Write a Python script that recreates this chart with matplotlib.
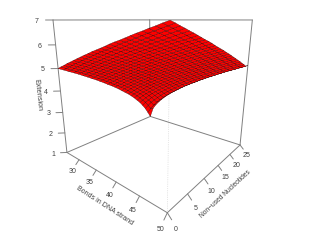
"""
Perspective surface of extension against bonds and non-used nucleotides.
"""

import numpy as np
import matplotlib
matplotlib.use('Agg')
import matplotlib.pyplot as plt
from matplotlib.collections import PolyCollection

plt.rcParams['font.family'] = ['Liberation Sans', 'DejaVu Sans']

bonds = [26, 27, 28, 29, 30, 31, 32, 33, 34, 35, 36, 37, 38, 39, 40, 41, 42, 43, 44, 45, 46, 47, 48, 49, 50]
nucleotides = [0, 1, 2, 3, 4, 5, 6, 7, 8, 9, 10, 11, 12, 13, 14, 15, 16, 17, 18, 19, 20, 21, 22, 23, 24, 25]

# extension, one row per bond count, one column per nucleotide count
extension = [
    [5.00, 4.90, 4.80, 4.70, 4.60, 4.49, 4.38, 4.27, 4.16, 4.04, 3.92, 3.79, 3.67, 3.54, 3.40, 3.25, 3.10, 2.95, 2.78, 2.60, 2.40, 2.20, 1.95, 1.68, 1.35, 1.00],
    [5.10, 5.00, 4.90, 4.80, 4.70, 4.60, 4.49, 4.38, 4.27, 4.16, 4.04, 3.92, 3.79, 3.67, 3.54, 3.40, 3.25, 3.10, 2.95, 2.78, 2.60, 2.40, 2.20, 1.95, 1.68, 1.62],
    [5.19, 5.10, 5.00, 4.90, 4.80, 4.70, 4.60, 4.49, 4.38, 4.27, 4.16, 4.04, 3.92, 3.79, 3.67, 3.54, 3.40, 3.25, 3.10, 2.95, 2.78, 2.60, 2.40, 2.20, 1.95, 1.93],
    [5.29, 5.19, 5.10, 5.00, 4.90, 4.80, 4.70, 4.60, 4.49, 4.38, 4.27, 4.16, 4.04, 3.92, 3.79, 3.67, 3.54, 3.40, 3.25, 3.10, 2.95, 2.78, 2.60, 2.40, 2.20, 2.18],
    [5.38, 5.29, 5.19, 5.10, 5.00, 4.90, 4.80, 4.70, 4.60, 4.49, 4.38, 4.27, 4.16, 4.04, 3.92, 3.79, 3.67, 3.54, 3.40, 3.25, 3.10, 2.95, 2.78, 2.60, 2.40, 2.40],
    [5.47, 5.38, 5.29, 5.19, 5.10, 5.00, 4.90, 4.80, 4.70, 4.60, 4.49, 4.38, 4.27, 4.16, 4.04, 3.92, 3.79, 3.67, 3.54, 3.40, 3.25, 3.10, 2.95, 2.78, 2.60, 2.60],
    [5.56, 5.47, 5.38, 5.29, 5.19, 5.10, 5.00, 4.90, 4.80, 4.70, 4.60, 4.49, 4.38, 4.27, 4.16, 4.04, 3.92, 3.79, 3.67, 3.54, 3.40, 3.25, 3.10, 2.95, 2.78, 2.78],
    [5.65, 5.56, 5.47, 5.38, 5.29, 5.19, 5.10, 5.00, 4.90, 4.80, 4.70, 4.60, 4.49, 4.38, 4.27, 4.16, 4.04, 3.92, 3.79, 3.67, 3.54, 3.40, 3.25, 3.10, 2.95, 2.95],
    [5.74, 5.65, 5.56, 5.47, 5.38, 5.29, 5.19, 5.10, 5.00, 4.90, 4.80, 4.70, 4.60, 4.49, 4.38, 4.27, 4.16, 4.04, 3.92, 3.79, 3.67, 3.54, 3.40, 3.25, 3.10, 3.10],
    [5.82, 5.74, 5.65, 5.56, 5.47, 5.38, 5.29, 5.19, 5.10, 5.00, 4.90, 4.80, 4.70, 4.60, 4.49, 4.38, 4.27, 4.16, 4.04, 3.92, 3.79, 3.67, 3.54, 3.40, 3.25, 3.25],
    [5.91, 5.82, 5.74, 5.65, 5.56, 5.47, 5.38, 5.29, 5.19, 5.10, 5.00, 4.90, 4.80, 4.70, 4.60, 4.49, 4.38, 4.27, 4.16, 4.04, 3.92, 3.79, 3.67, 3.54, 3.40, 3.40],
    [5.99, 5.91, 5.82, 5.74, 5.65, 5.56, 5.47, 5.38, 5.29, 5.19, 5.10, 5.00, 4.90, 4.80, 4.70, 4.60, 4.49, 4.38, 4.27, 4.16, 4.04, 3.92, 3.79, 3.67, 3.54, 3.54],
    [6.07, 5.99, 5.91, 5.82, 5.74, 5.65, 5.56, 5.47, 5.38, 5.29, 5.19, 5.10, 5.00, 4.90, 4.80, 4.70, 4.60, 4.49, 4.38, 4.27, 4.16, 4.04, 3.92, 3.79, 3.67, 3.67],
    [6.15, 6.07, 5.99, 5.91, 5.82, 5.74, 5.65, 5.56, 5.47, 5.38, 5.29, 5.19, 5.10, 5.00, 4.90, 4.80, 4.70, 4.60, 4.49, 4.38, 4.27, 4.16, 4.04, 3.92, 3.79, 3.79],
    [6.24, 6.15, 6.07, 5.99, 5.91, 5.82, 5.74, 5.65, 5.56, 5.47, 5.38, 5.29, 5.19, 5.10, 5.00, 4.90, 4.80, 4.70, 4.60, 4.49, 4.38, 4.27, 4.16, 4.04, 3.92, 3.92],
    [6.32, 6.24, 6.15, 6.07, 5.99, 5.91, 5.82, 5.74, 5.65, 5.56, 5.47, 5.38, 5.29, 5.19, 5.10, 5.00, 4.90, 4.80, 4.70, 4.60, 4.49, 4.38, 4.27, 4.16, 4.04, 4.04],
    [6.39, 6.32, 6.24, 6.15, 6.07, 5.99, 5.91, 5.82, 5.74, 5.65, 5.56, 5.47, 5.38, 5.29, 5.19, 5.10, 5.00, 4.90, 4.80, 4.70, 4.60, 4.49, 4.38, 4.27, 4.16, 4.16],
    [6.47, 6.39, 6.32, 6.24, 6.15, 6.07, 5.99, 5.91, 5.82, 5.74, 5.65, 5.56, 5.47, 5.38, 5.29, 5.19, 5.10, 5.00, 4.90, 4.80, 4.70, 4.60, 4.49, 4.38, 4.27, 4.27],
    [6.55, 6.47, 6.39, 6.32, 6.24, 6.15, 6.07, 5.99, 5.91, 5.82, 5.74, 5.65, 5.56, 5.47, 5.38, 5.29, 5.19, 5.10, 5.00, 4.90, 4.80, 4.70, 4.60, 4.49, 4.38, 4.38],
    [6.63, 6.55, 6.47, 6.39, 6.32, 6.24, 6.15, 6.07, 5.99, 5.91, 5.82, 5.74, 5.65, 5.56, 5.47, 5.38, 5.29, 5.19, 5.10, 5.00, 4.90, 4.80, 4.70, 4.60, 4.49, 4.49],
    [6.70, 6.63, 6.55, 6.47, 6.39, 6.32, 6.24, 6.15, 6.07, 5.99, 5.91, 5.82, 5.74, 5.65, 5.56, 5.47, 5.38, 5.29, 5.19, 5.10, 5.00, 4.90, 4.80, 4.70, 4.60, 4.60],
    [6.78, 6.70, 6.63, 6.55, 6.47, 6.39, 6.32, 6.24, 6.15, 6.07, 5.99, 5.91, 5.82, 5.74, 5.65, 5.56, 5.47, 5.38, 5.29, 5.19, 5.10, 5.00, 4.90, 4.80, 4.70, 4.70],
    [6.85, 6.78, 6.70, 6.63, 6.55, 6.47, 6.39, 6.32, 6.24, 6.15, 6.07, 5.99, 5.91, 5.82, 5.74, 5.65, 5.56, 5.47, 5.38, 5.29, 5.19, 5.10, 5.00, 4.90, 4.80, 4.80],
    [6.93, 6.85, 6.78, 6.70, 6.63, 6.55, 6.47, 6.39, 6.32, 6.24, 6.15, 6.07, 5.99, 5.91, 5.82, 5.74, 5.65, 5.56, 5.47, 5.38, 5.29, 5.19, 5.10, 5.00, 4.90, 4.90],
    [7.00, 6.93, 6.85, 6.78, 6.70, 6.63, 6.55, 6.47, 6.39, 6.32, 6.24, 6.15, 6.07, 5.99, 5.91, 5.82, 5.74, 5.65, 5.56, 5.47, 5.38, 5.29, 5.19, 5.10, 5.00, 5.00],
]

bond_ticks = [30, 35, 40, 45, 50]
nucleotide_ticks = [0, 5, 10, 15, 20, 25]
extension_ticks = [1, 2, 3, 4, 5, 6, 7]

THETA = np.radians(40)
PHI = np.radians(15.4)
EYE = 3.82
Z_EXPAND = 1.01


def project(x, y, z):
    # same idea as persp(): box scaled to -1..1, turned, then divided by depth
    xn = 2 * (np.asarray(x, float) - bonds[0]) / (bonds[-1] - bonds[0]) - 1
    yn = 2 * (np.asarray(y, float) - nucleotides[0]) / (nucleotides[-1] - nucleotides[0]) - 1
    zn = (2 * (np.asarray(z, float) - 1) / 6 - 1) * Z_EXPAND
    sx = xn * np.cos(THETA) + yn * np.sin(THETA)
    depth = xn * np.sin(THETA) - yn * np.cos(THETA)
    sy = zn * np.cos(PHI) - depth * np.sin(PHI)
    sz = zn * np.sin(PHI) + depth * np.cos(PHI)
    w = EYE - sz
    return sx / w, sy / w, sz


fig = plt.figure(figsize=(3.18, 2.53), dpi=100)
ax = fig.add_axes([0, 0, 1, 1])
ax.axis('off')

x0, x1 = bonds[0], bonds[-1]
y0, y1 = nucleotides[0], nucleotides[-1]
z0, z1 = extension_ticks[0], extension_ticks[-1]
grey = '#808080'

# scale and centre of the projected picture
px = 251.0
ax.set_xlim(-156 / px, (318 - 156) / px)
top = project(x0, y0, z1)[1]
ax.set_ylim(top - (253 - 21) / px, top + 21 / px)


def edge(a, b, **kw):
    pa = project(*a)
    pb = project(*b)
    style = dict(color=grey, lw=0.7, solid_capstyle='round')
    style.update(kw)
    ax.plot([pa[0], pb[0]], [pa[1], pb[1]], **style)


# back of the box
edge((x0, y1, z0), (x0, y1, z1))
edge((x0, y1, z0), (x0, y0, z0))
edge((x0, y1, z0), (x1, y1, z0))
edge((x0, y1, z1), (x0, y0, z1))
edge((x0, y1, z1), (x1, y1, z1))
edge((x0, y0, z0), (x0, y0, z1))
edge((x1, y1, z0), (x1, y1, z1))

# facets, far ones first
Z = np.array(extension)
facets = []
depths = []
for i in range(len(bonds) - 1):
    for j in range(len(nucleotides) - 1):
        xs = [bonds[i], bonds[i + 1], bonds[i + 1], bonds[i]]
        ys = [nucleotides[j], nucleotides[j], nucleotides[j + 1], nucleotides[j + 1]]
        zs = [Z[i, j], Z[i + 1, j], Z[i + 1, j + 1], Z[i, j + 1]]
        sx, sy, sz = project(xs, ys, zs)
        facets.append(np.column_stack([sx, sy]))
        depths.append(sz.mean())
order = np.argsort(depths)
ax.add_collection(PolyCollection([facets[k] for k in order], facecolors='#ff0000',
                                 edgecolors='#200000', linewidths=0.22, zorder=3))

# front of the box
edge((x1, y0, z0), (x0, y0, z0), zorder=4)
edge((x1, y0, z0), (x1, y1, z0), zorder=4)
edge((x1, y0, z0), (x1, y0, z1), color='#d0d0d0', lw=0.5, ls=':', zorder=1)

text_style = dict(ha='center', va='center', fontsize=5.0, color='#404040')
y_span = y1 - y0
x_span = x1 - x0

for b in bond_ticks:
    edge((b, y0, z0), (b, y0 - 0.03 * y_span, z0 - 0.16))
    p = project(b, y0 - 0.06 * y_span, z0 - 0.35)
    ax.text(p[0], p[1], str(b), **text_style)

for n in nucleotide_ticks:
    edge((x1, n, z0), (x1 + 0.03 * x_span, n, z0 - 0.17))
    p = project(x1 + 0.06 * x_span, n, z0 - 0.38)
    ax.text(p[0], p[1], str(n), **text_style)

for e in extension_ticks:
    edge((x0, y0, e), (x0 - 0.035 * x_span, y0 - 0.035 * y_span, e))
    p = project(x0 - 0.075 * x_span, y0 - 0.075 * y_span, e)
    ax.text(p[0], p[1], str(e), **text_style)

p = project(39.5, y0 - 0.09 * y_span, z0 - 0.75)
ax.text(p[0], p[1], 'Bonds in DNA strand', rotation=-33, rotation_mode='anchor', **text_style)
p = project(x1 + 0.12 * x_span, 12, z0 - 0.62)
ax.text(p[0], p[1], 'Non\u2212used Nucleotides', rotation=43, rotation_mode='anchor', fontsize=4.8,
        ha='center', va='center', color='#404040')
p = project(x0 - 0.115 * x_span, y0 - 0.115 * y_span, 3.9)
ax.text(p[0], p[1], 'Extension', rotation=-84, rotation_mode='anchor', fontsize=5.3,
        ha='center', va='center', color='#404040')

fig.savefig('out.png', dpi=100)
